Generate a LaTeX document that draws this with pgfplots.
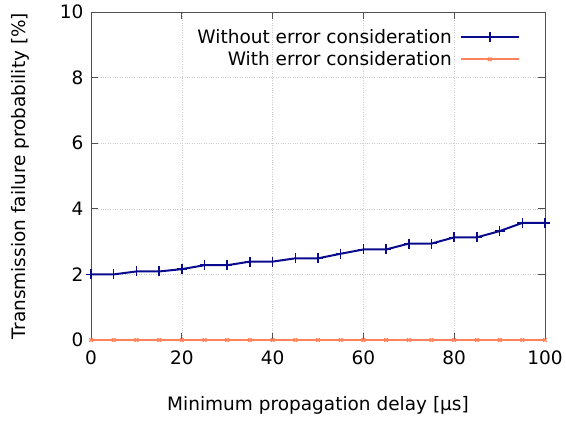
\documentclass[border=0pt]{standalone}
\usepackage{fontspec}
\setmainfont{DejaVu Sans}
\usepackage{pgfplots}
\pgfplotsset{compat=1.18}
\definecolor{navyb}{RGB}{10,10,140}
\definecolor{coralo}{RGB}{255,130,90}
\definecolor{axgray}{RGB}{80,80,80}
\begin{document}
\begin{tikzpicture}
\begin{axis}[name=ax, scale only axis, width=454pt, height=328pt,
  xmin=0, xmax=100, ymin=0, ymax=10,
  xtick={0,20,...,100}, ytick={0,2,...,10},
  tick align=inside, major tick length=7pt,
  grid=major, major grid style={dotted, gray!40, line width=0.6pt},
  axis line style={axgray, line width=0.8pt},
  tick style={axgray, line width=0.8pt},
  font=\fontsize{18.5}{21}\selectfont,
  /pgf/number format/assume math mode=true,
  xticklabel style={yshift=-7pt},
  yticklabel style={xshift=-4pt},
  xlabel={Minimum propagation delay [µs]},
  ylabel={Transmission failure probability [\%]},
  xlabel style={at={(axis description cs:0.5,-0.198)}, anchor=center},
  ylabel style={at={(axis description cs:-0.1564,0.5)}, anchor=center},
  legend style={draw=none, fill=none, at={(rel axis cs:0.945,0.955)}, anchor=north east, row sep=3pt, column sep=6pt, inner sep=0pt},
  legend plot pos=right, legend cell align=right,
  legend image code/.code={\draw[mark repeat=2,mark phase=2,#1] plot coordinates {(0pt,0pt) (29pt,0pt) (58pt,0pt)};}
]
\addplot[color=navyb, line width=2pt, mark=+, mark size=5pt, mark options={line width=1.5pt}] coordinates {
(0,2.00) (5,2.00) (10,2.09) (15,2.09) (20,2.16) (25,2.28) (30,2.28) (35,2.39) (40,2.39)
(45,2.49) (50,2.49) (55,2.63) (60,2.76) (65,2.76) (70,2.94) (75,2.94) (80,3.13) (85,3.13)
(90,3.32) (95,3.57) (100,3.57)};
\addlegendentry{Without error consideration}
\addplot[color=coralo, line width=2pt, mark=x, mark size=2.5pt, mark options={line width=1.3pt}] coordinates {
(0,0) (5,0) (10,0) (15,0) (20,0) (25,0) (30,0) (35,0) (40,0) (45,0) (50,0)
(55,0) (60,0) (65,0) (70,0) (75,0) (80,0) (85,0) (90,0) (95,0) (100,0)};
\addlegendentry{With error consideration}
\end{axis}
\pgfresetboundingbox
\path ([shift={(-91pt,-80pt)}]ax.south west) rectangle ([shift={(21pt,12pt)}]ax.north east);
\end{tikzpicture}
\end{document}
